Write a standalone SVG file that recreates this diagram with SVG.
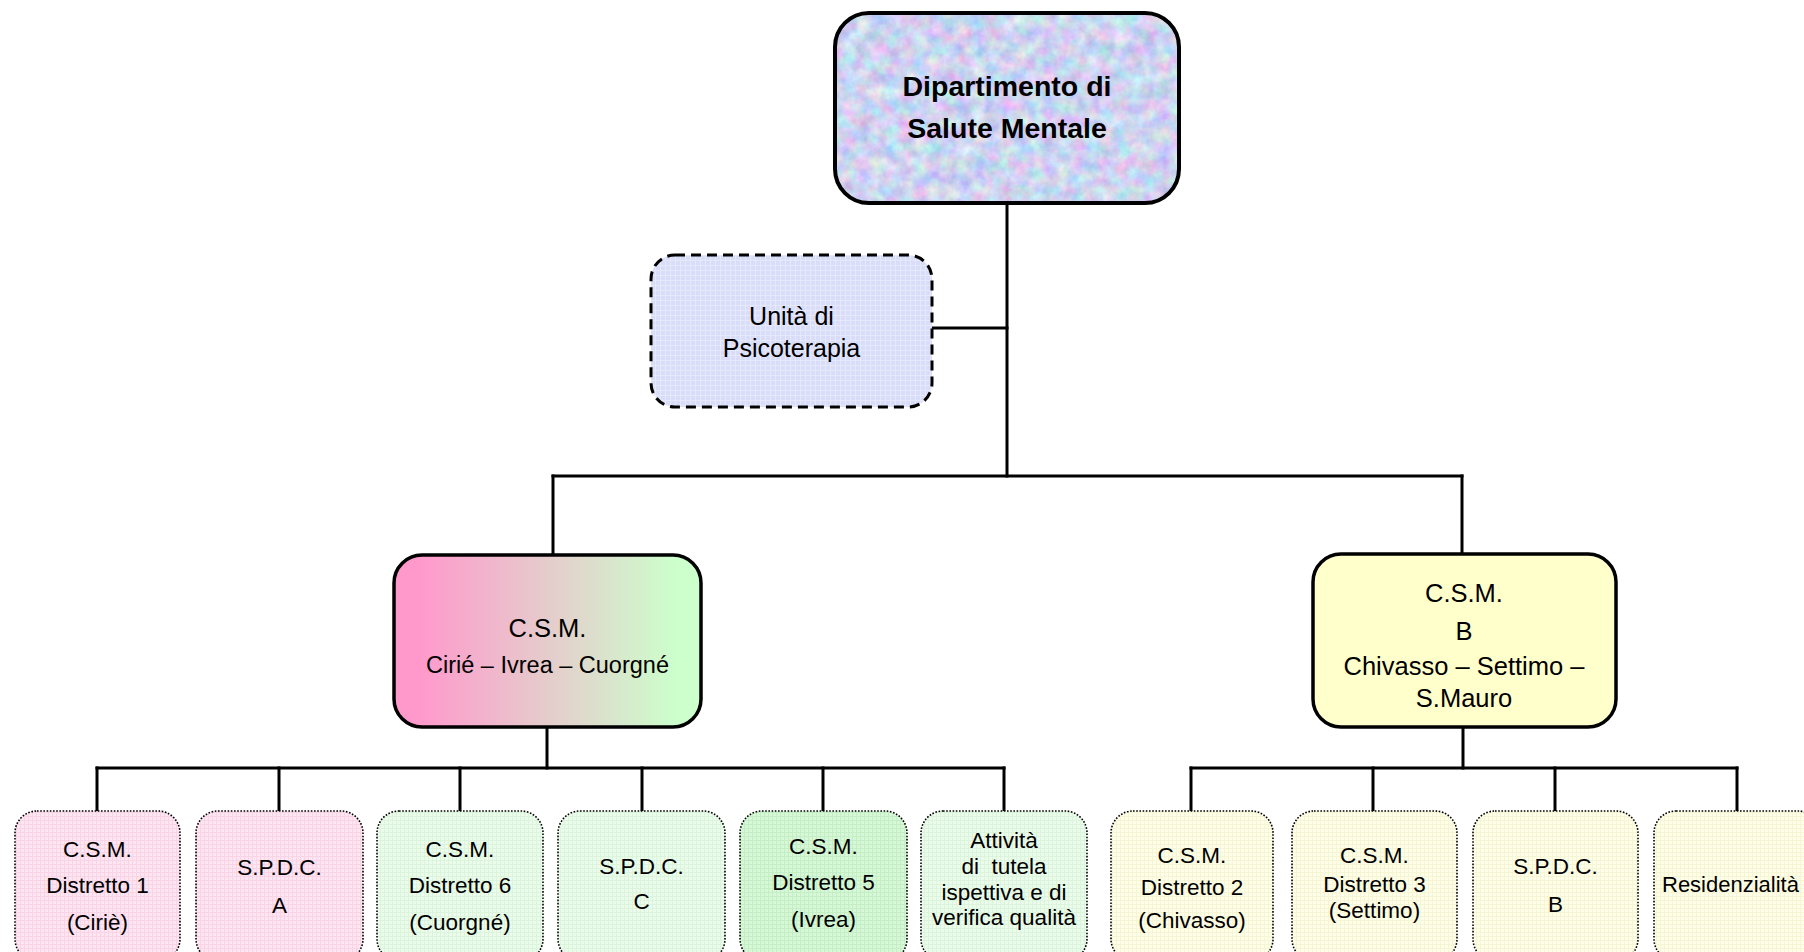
<svg xmlns="http://www.w3.org/2000/svg" width="1804" height="952" viewBox="0 0 1804 952">
<defs>
<style>
text{font-family:"Liberation Sans",Arial,sans-serif;fill:#000;text-anchor:middle}
.t{font-size:22.5px}
.conn line{stroke:#000;stroke-width:3;stroke-linecap:square}
.leaf{stroke:#000;stroke-width:1.6;stroke-dasharray:1.6 1.6}
.mid{stroke:#000;stroke-width:3.5}
</style>
<filter id="marble" x="0" y="0" width="100%" height="100%" color-interpolation-filters="sRGB">
<feTurbulence type="fractalNoise" baseFrequency="0.07" numOctaves="4" seed="7"/>
<feColorMatrix type="matrix" values="0.45 0 0 0 0.58  0 0.4 0 0 0.63  0 0 0.2 0 0.84  0 0 0 0 1"/>
<feComposite in2="SourceGraphic" operator="in"/>
</filter>
<linearGradient id="gL" x1="0" y1="0" x2="1" y2="0">
<stop offset="0.08" stop-color="#FF99CC"/>
<stop offset="0.92" stop-color="#CCFFCC"/>
</linearGradient>
<pattern id="pPink" width="4" height="4" patternUnits="userSpaceOnUse">
<rect width="4" height="4" fill="#FDE5F1"/><rect width="4" height="1" fill="#F8D4E6"/><rect width="1" height="4" fill="#F8D4E6"/>
</pattern>
<pattern id="pGreen" width="4" height="4" patternUnits="userSpaceOnUse">
<rect width="4" height="4" fill="#ECFCEC"/><rect width="4" height="1" fill="#DCF4DC"/><rect width="1" height="4" fill="#DCF4DC"/>
</pattern>
<pattern id="pGreen2" width="4" height="4" patternUnits="userSpaceOnUse">
<rect width="4" height="4" fill="#D6F8D6"/><rect width="4" height="1" fill="#C6EEC6"/><rect width="1" height="4" fill="#C6EEC6"/>
</pattern>
<pattern id="pYel" width="4" height="4" patternUnits="userSpaceOnUse">
<rect width="4" height="4" fill="#FEFEE9"/><rect width="4" height="1" fill="#F6F6D6"/><rect width="1" height="4" fill="#F6F6D6"/>
</pattern>
<pattern id="pBlue" width="5" height="5" patternUnits="userSpaceOnUse">
<rect width="5" height="5" fill="#D9DDF7"/><rect width="5" height="1" fill="#E6E9FB"/><rect width="1" height="5" fill="#E6E9FB"/>
</pattern>
</defs>
<rect width="1804" height="952" fill="#fff"/>

<g id="connectors" class="conn">
<line x1="1007" y1="203" x2="1007" y2="476"/>
<line x1="932" y1="328" x2="1007" y2="328"/>
<line x1="553" y1="476" x2="1462" y2="476"/>
<line x1="553" y1="476" x2="553" y2="555"/>
<line x1="1462" y1="476" x2="1462" y2="554"/>
<line x1="547" y1="727" x2="547" y2="768"/>
<line x1="97" y1="768" x2="1004" y2="768"/>
<line x1="97" y1="768" x2="97" y2="811"/>
<line x1="279" y1="768" x2="279" y2="811"/>
<line x1="460" y1="768" x2="460" y2="811"/>
<line x1="642" y1="768" x2="642" y2="811"/>
<line x1="823" y1="768" x2="823" y2="811"/>
<line x1="1004" y1="768" x2="1004" y2="811"/>
<line x1="1463" y1="727" x2="1463" y2="768"/>
<line x1="1191" y1="768" x2="1737" y2="768"/>
<line x1="1191" y1="768" x2="1191" y2="811"/>
<line x1="1373" y1="768" x2="1373" y2="811"/>
<line x1="1555" y1="768" x2="1555" y2="811"/>
<line x1="1737" y1="768" x2="1737" y2="811"/>
</g>

<g id="dsm">
<rect x="835" y="13" width="344" height="190" rx="34" fill="#C8D6F0" filter="url(#marble)"/>
<rect x="835" y="13" width="344" height="190" rx="34" fill="none" stroke="#000" stroke-width="4"/>
<text x="1007" y="96" font-size="28.5" font-weight="bold">Dipartimento di</text>
<text x="1007" y="138" font-size="28.5" font-weight="bold">Salute Mentale</text>
</g>

<g id="psicoterapia">
<rect x="651" y="255" width="281" height="152" rx="24" fill="url(#pBlue)" stroke="#000" stroke-width="3" stroke-dasharray="10 6"/>
<text x="791.5" y="325" font-size="25">Unità di</text>
<text x="791.5" y="357" font-size="25">Psicoterapia</text>
</g>

<g id="csm-a">
<rect x="394" y="555" width="307" height="172" rx="28" fill="url(#gL)" class="mid"/>
<text x="547.5" y="637" font-size="25.5">C.S.M.</text>
<text x="547.5" y="673" font-size="23.5">Cirié – Ivrea – Cuorgné</text>
</g>

<g id="csm-b">
<rect x="1313" y="554" width="303" height="173" rx="28" fill="#FFFFCC" class="mid"/>
<text x="1464" y="602" font-size="25.5">C.S.M.</text>
<text x="1464" y="640" font-size="25.5">B</text>
<text x="1464" y="675" font-size="25.5">Chivasso – Settimo –</text>
<text x="1464" y="707" font-size="25.5">S.Mauro</text>
</g>

<g id="csm-d1">
<rect x="15" y="811" width="165" height="150" rx="22" fill="url(#pPink)" class="leaf"/>
<text class="t" x="97.5" y="857">C.S.M.</text>
<text class="t" x="97.5" y="893">Distretto 1</text>
<text class="t" x="97.5" y="930">(Ciriè)</text>
</g>

<g id="spdc-a">
<rect x="196" y="811" width="167" height="150" rx="22" fill="url(#pPink)" class="leaf"/>
<text class="t" x="279.5" y="875">S.P.D.C.</text>
<text class="t" x="279.5" y="913">A</text>
</g>

<g id="csm-d6">
<rect x="377" y="811" width="166" height="150" rx="22" fill="url(#pGreen)" class="leaf"/>
<text class="t" x="460" y="857">C.S.M.</text>
<text class="t" x="460" y="893">Distretto 6</text>
<text class="t" x="460" y="930">(Cuorgné)</text>
</g>

<g id="spdc-c">
<rect x="558" y="811" width="167" height="150" rx="22" fill="url(#pGreen)" class="leaf"/>
<text class="t" x="641.5" y="874">S.P.D.C.</text>
<text class="t" x="641.5" y="909">C</text>
</g>

<g id="csm-d5">
<rect x="740" y="811" width="167" height="150" rx="22" fill="url(#pGreen2)" class="leaf"/>
<text class="t" x="823.5" y="854">C.S.M.</text>
<text class="t" x="823.5" y="890">Distretto 5</text>
<text class="t" x="823.5" y="927">(Ivrea)</text>
</g>

<g id="attivita">
<rect x="921" y="811" width="166" height="150" rx="22" fill="url(#pGreen)" class="leaf"/>
<text class="t" x="1004" y="848">Attività</text>
<text class="t" x="1004" y="874" xml:space="preserve">di  tutela</text>
<text class="t" x="1004" y="900">ispettiva e di</text>
<text class="t" x="1004" y="925">verifica qualità</text>
</g>

<g id="csm-d2">
<rect x="1111" y="811" width="162" height="150" rx="22" fill="url(#pYel)" class="leaf"/>
<text class="t" x="1192" y="863">C.S.M.</text>
<text class="t" x="1192" y="895">Distretto 2</text>
<text class="t" x="1192" y="928">(Chivasso)</text>
</g>

<g id="csm-d3">
<rect x="1292" y="811" width="165" height="150" rx="22" fill="url(#pYel)" class="leaf"/>
<text class="t" x="1374.5" y="863">C.S.M.</text>
<text class="t" x="1374.5" y="892">Distretto 3</text>
<text class="t" x="1374.5" y="918">(Settimo)</text>
</g>

<g id="spdc-b">
<rect x="1473" y="811" width="165" height="150" rx="22" fill="url(#pYel)" class="leaf"/>
<text class="t" x="1555.5" y="874">S.P.D.C.</text>
<text class="t" x="1555.5" y="912">B</text>
</g>

<g id="residenzialita">
<rect x="1654" y="811" width="166" height="150" rx="22" fill="url(#pYel)" class="leaf"/>
<text x="1662" y="892" font-size="22" style="text-anchor:start">Residenzialità</text>
</g>
</svg>
